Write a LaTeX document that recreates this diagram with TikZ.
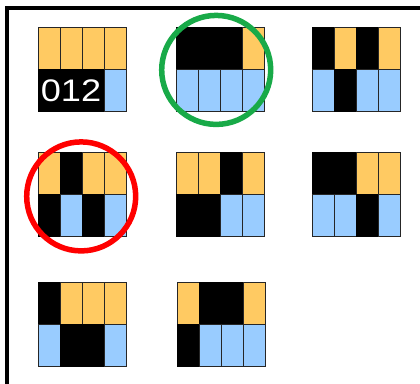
\documentclass[tikz,border=0pt]{standalone}
\usepackage{fontspec}
\setmainfont{Liberation Sans}
\definecolor{corange}{HTML}{FFCA62}
\definecolor{cblue}{HTML}{99CCFF}
\definecolor{cgreen}{RGB}{24,170,72}
\definecolor{cred}{RGB}{255,0,0}
\tikzset{
  cellO/.style={fill=corange, draw=black!85, line width=1bp},
  cellK/.style={fill=black, draw=black, line width=1bp},
  cellB/.style={fill=cblue, draw=black!85, line width=1bp},
  ring/.style={line width=5.5bp},
  frameline/.style={line width=4bp, draw=black},
  digits/.style={text=white, inner sep=0pt, font=\fontsize{31.3}{32}\selectfont}
}
\newcommand\drawgrid[4]{%
  \foreach \c [count=\i from 0] in {#3} {\path[cell\c] ({#1+22*\i},#2) rectangle ++(22,42);}%
  \foreach \c [count=\i from 0] in {#4} {\path[cell\c] ({#1+22*\i},{#2+42}) rectangle ++(22,42);}%
}
\begin{document}
\begin{tikzpicture}[x=1bp,y=-1bp]
  \useasboundingbox (0,0) rectangle (420,384);
  \clip (0,0) rectangle (420,384);
  \fill[white] (0,0) rectangle (420,384);
  % frame
  \draw[frameline] (7,400) -- (7,8) -- (440,8);
  % grids
  \drawgrid{38}{27}{O,O,O,O}{K,K,K,B}
  \drawgrid{176}{27}{K,K,K,O}{B,B,B,B}
  \drawgrid{312}{27}{K,O,K,O}{B,K,B,B}
  \drawgrid{38}{152}{O,K,O,O}{K,B,K,B}
  \drawgrid{176}{152}{O,O,K,O}{K,K,B,B}
  \drawgrid{312}{152}{K,K,O,O}{B,B,K,B}
  \drawgrid{38}{282}{K,O,O,O}{B,K,K,B}
  \drawgrid{177}{282}{O,K,K,O}{K,B,B,B}
  % label
  \node[digits] (lbl) at (71,90.5) {\scalebox{1.16}[1]{012}};
  % rings
  \draw[ring, cgreen] (216.2,69.9) circle[radius=54.5];
  \draw[ring, cred] (81.2,196.4) circle[radius=54.5];
\end{tikzpicture}
\end{document}
